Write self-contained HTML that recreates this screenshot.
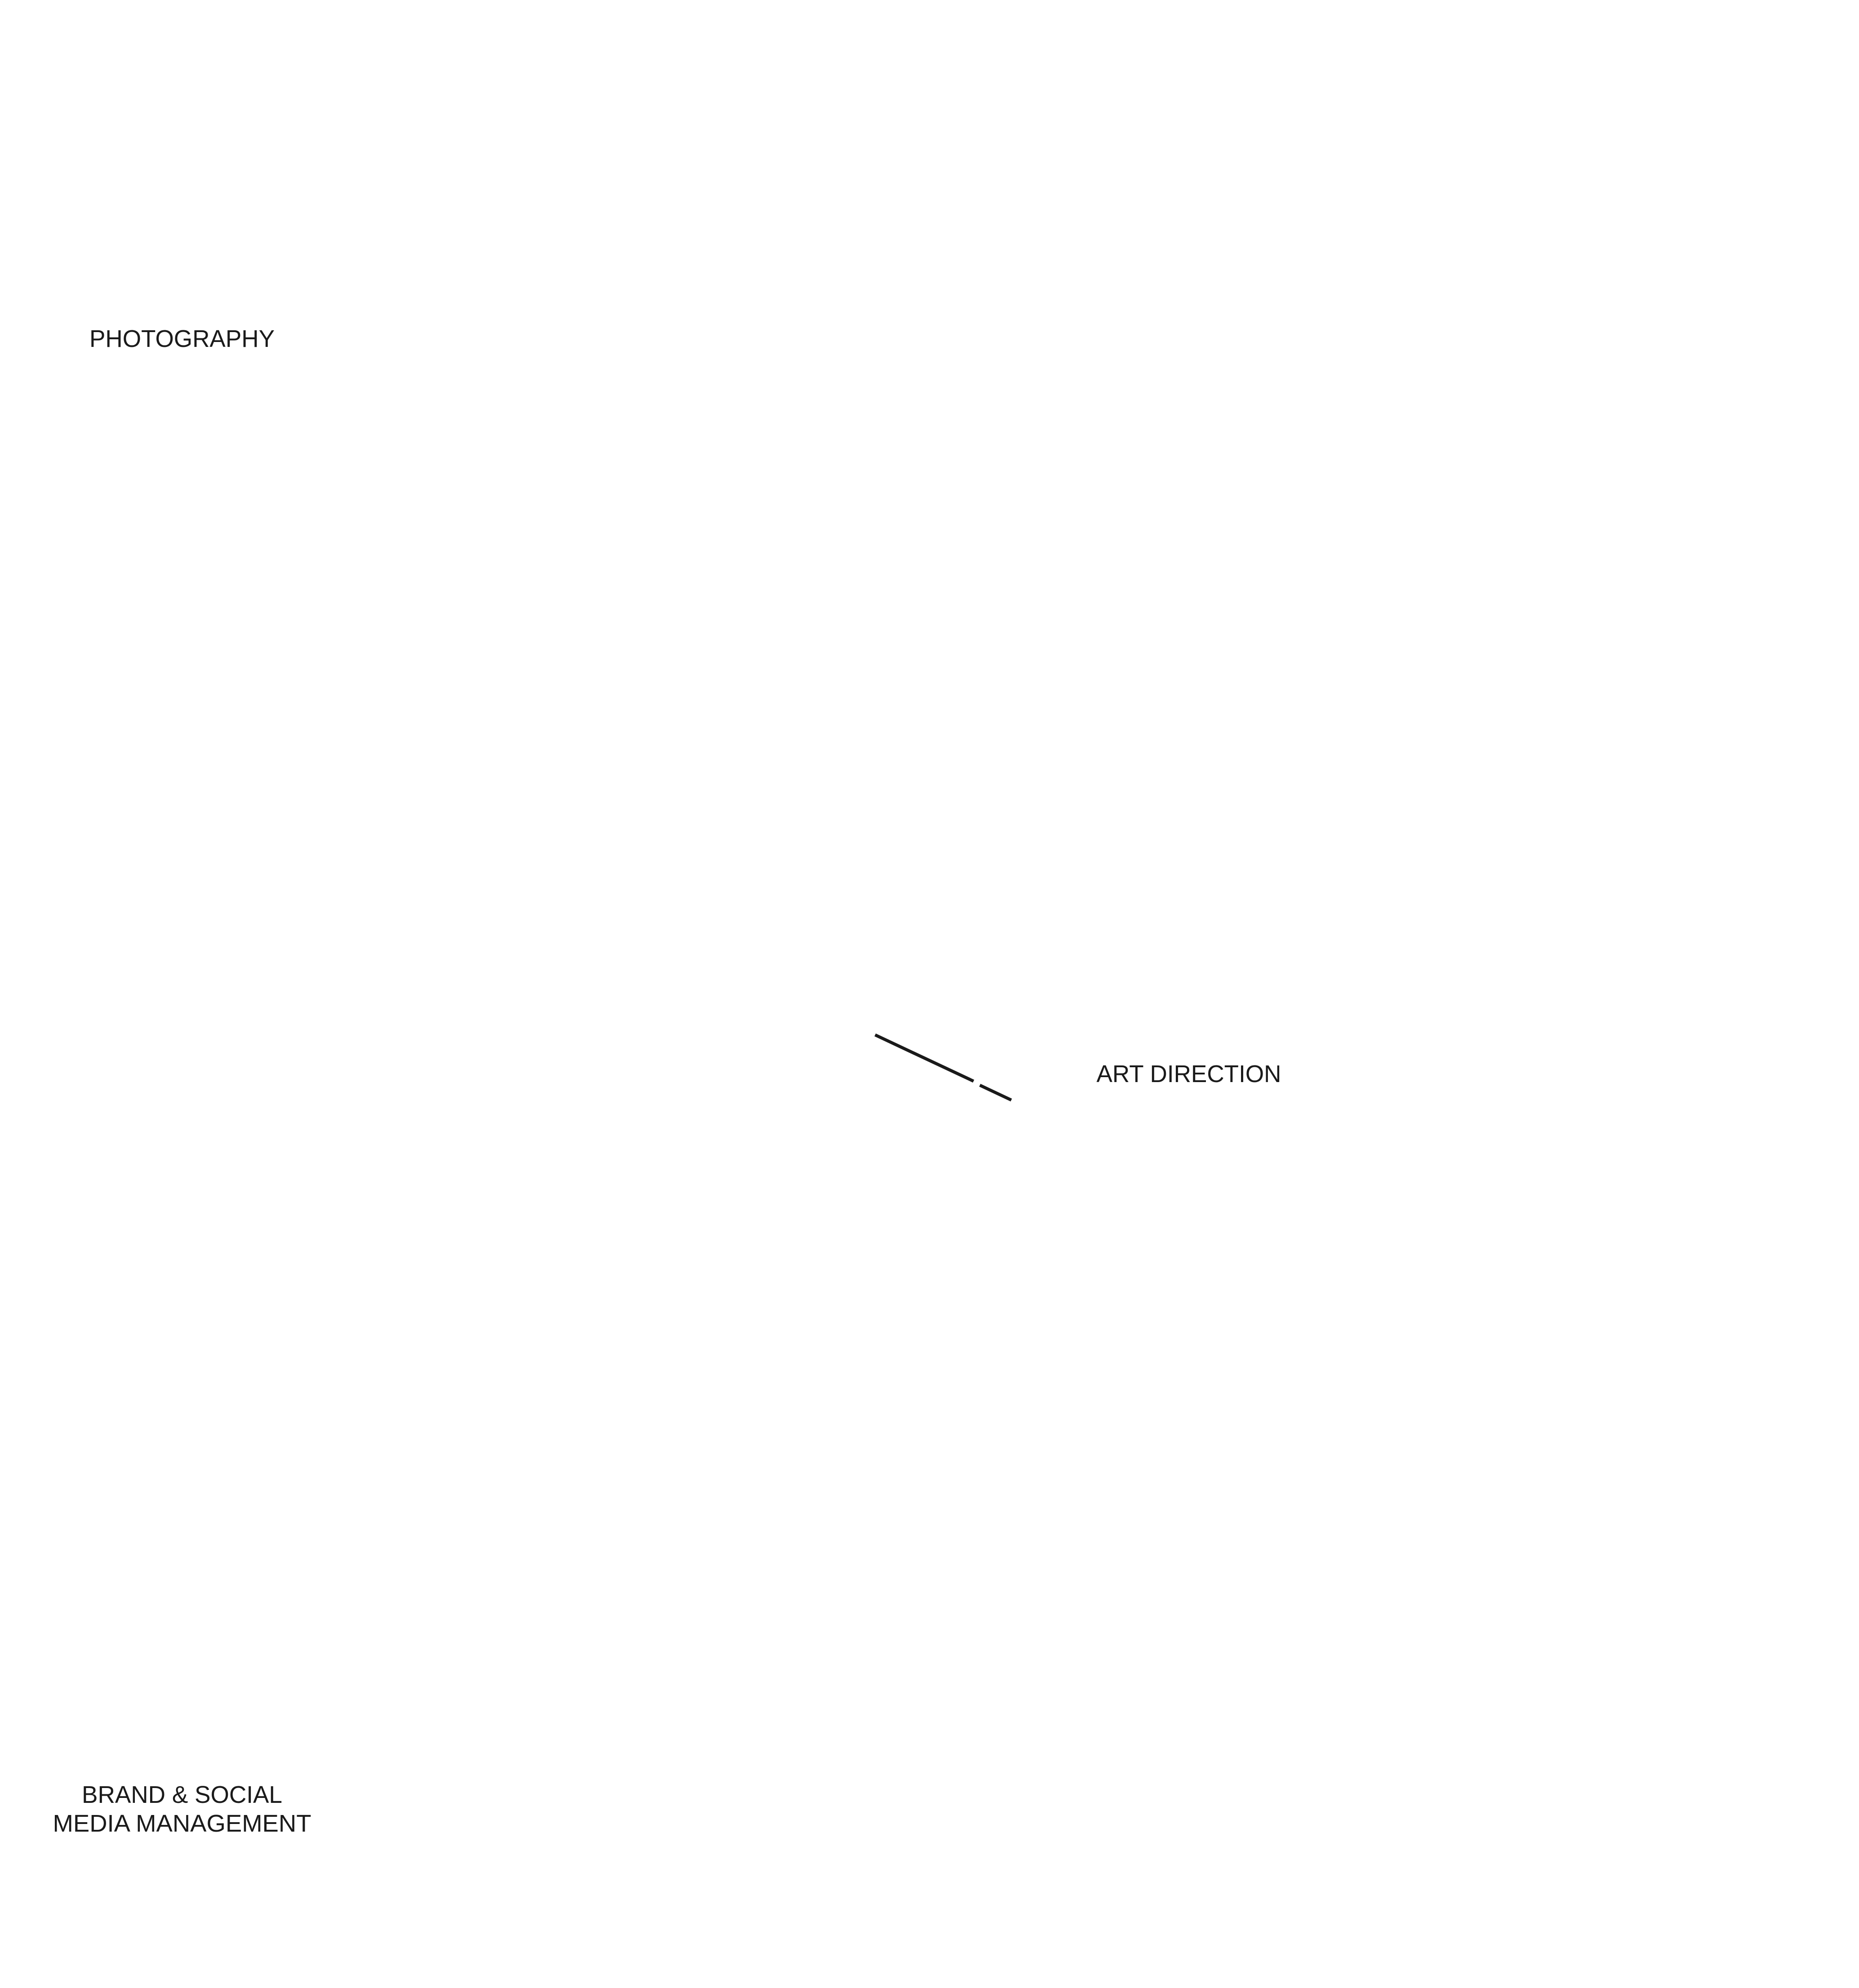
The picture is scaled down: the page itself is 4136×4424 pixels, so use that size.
<!DOCTYPE html>
<html><head><meta charset="utf-8"><style>
html,body{margin:0;padding:0;background:#fff;}
svg{display:block;}
text{font-family:"Liberation Sans",Arial,sans-serif;font-size:54px;fill:#1a1a1a;}
</style></head><body>
<svg width="4136" height="4424" viewBox="0 0 4136 4424" xmlns="http://www.w3.org/2000/svg">
<rect width="4136" height="4424" fill="#ffffff"/>
<text x="405" y="772" text-anchor="middle" textLength="412" lengthAdjust="spacingAndGlyphs">PHOTOGRAPHY</text>
<text x="2645" y="2408" text-anchor="middle" textLength="411" lengthAdjust="spacingAndGlyphs">ART DIRECTION</text>
<text x="405" y="4012" text-anchor="middle" textLength="446" lengthAdjust="spacingAndGlyphs">BRAND &amp; SOCIAL</text>
<text x="405" y="4076" text-anchor="middle" textLength="575" lengthAdjust="spacingAndGlyphs">MEDIA MANAGEMENT</text>
<line x1="1947" y1="2303" x2="2166" y2="2406" stroke="#1a1a1a" stroke-width="7"/>
<line x1="2180" y1="2415" x2="2250" y2="2448" stroke="#1a1a1a" stroke-width="7"/>
</svg>
</body></html>
